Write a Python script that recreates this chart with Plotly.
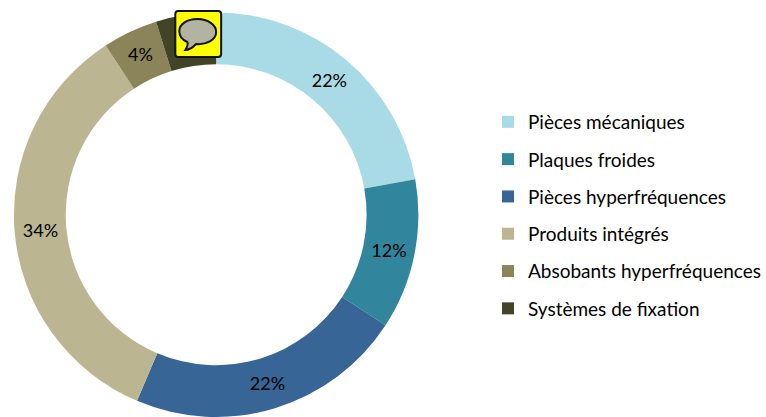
import plotly.graph_objects as go

W, H = 766, 417
OFFSET = 0
labels = ["Pièces mécaniques", "Plaques froides", "Pièces hyperfréquences",
          "Produits intégrés", "Absobants hyperfréquences", "Systèmes de fixation"]
values = [22.2, 12.0, 22.2, 34.4, 4.4, 4.8]
colors = ["#A9DBE6", "#31869E", "#376595", "#BBB592", "#8A8458", "#434328"]

def px(x): return (x - OFFSET) / W
def py(y): return 1 - (y - OFFSET) / H
def pt(x, y): return f"{px(x):.5f},{py(y):.5f}"

fig = go.Figure()
fig.add_trace(go.Pie(
    labels=labels, values=values, hole=0.744, sort=False, direction="clockwise",
    rotation=0, marker=dict(colors=colors, line=dict(width=0)),
    texttemplate="%{percent:.0%}", textposition="inside",
    insidetextorientation="horizontal",
    textfont=dict(family="Lato", size=18, color="#000000"),
    domain=dict(x=[px(14), px(420)], y=[0, py(12.5)]),
    showlegend=False, hoverinfo="label+percent",
))
for name, col in zip(labels, colors):
    fig.add_trace(go.Scatter(
        x=[None], y=[None], mode="markers", name=name, legendgroup=name,
        marker=dict(symbol="square", size=12, color=col, line=dict(width=0)),
    ))

icon_box = ("M " + pt(179, 11) + " L " + pt(219, 11) + " Q " + pt(222, 11) + " " + pt(222, 14) +
            " L " + pt(222, 54) + " Q " + pt(222, 57) + " " + pt(219, 57) +
            " L " + pt(179, 57) + " Q " + pt(176, 57) + " " + pt(176, 54) +
            " L " + pt(176, 14) + " Q " + pt(176, 11) + " " + pt(179, 11) + " Z")
bubble = ("M " + pt(198, 19) +
          " C " + pt(209, 19) + " " + pt(217, 25) + " " + pt(217, 32) +
          " C " + pt(217, 40) + " " + pt(207, 45) + " " + pt(197, 44) +
          " C " + pt(194, 47) + " " + pt(190, 50) + " " + pt(186, 50) +
          " C " + pt(188, 47) + " " + pt(189, 44) + " " + pt(188, 42) +
          " C " + pt(183, 40) + " " + pt(180, 36) + " " + pt(180, 31) +
          " C " + pt(180, 24) + " " + pt(188, 19) + " " + pt(198, 19) + " Z")

fig.update_layout(
    width=W, height=H, margin=dict(l=0, r=0, t=0, b=0),
    paper_bgcolor="white", plot_bgcolor="white",
    font=dict(family="Lato", size=19, color="#000000"),
    xaxis=dict(visible=False), yaxis=dict(visible=False),
    legend=dict(x=px(490), y=py(103), xanchor="left", yanchor="top",
                tracegroupgap=9.6, itemwidth=30, itemsizing="constant",
                bgcolor="rgba(0,0,0,0)", font=dict(family="Lato", size=19)),
    shapes=[
        dict(type="path", xref="paper", yref="paper", path=icon_box, layer="above",
             fillcolor="#FFFF00", line=dict(color="#111111", width=2)),
        dict(type="path", xref="paper", yref="paper", path=bubble, layer="above",
             fillcolor="rgba(176,176,170,0.96)", line=dict(color="#111111", width=2)),
    ],
)
fig.write_html("out.html", config={"displayModeBar": False},
               post_script="document.body.style.margin='0';")
